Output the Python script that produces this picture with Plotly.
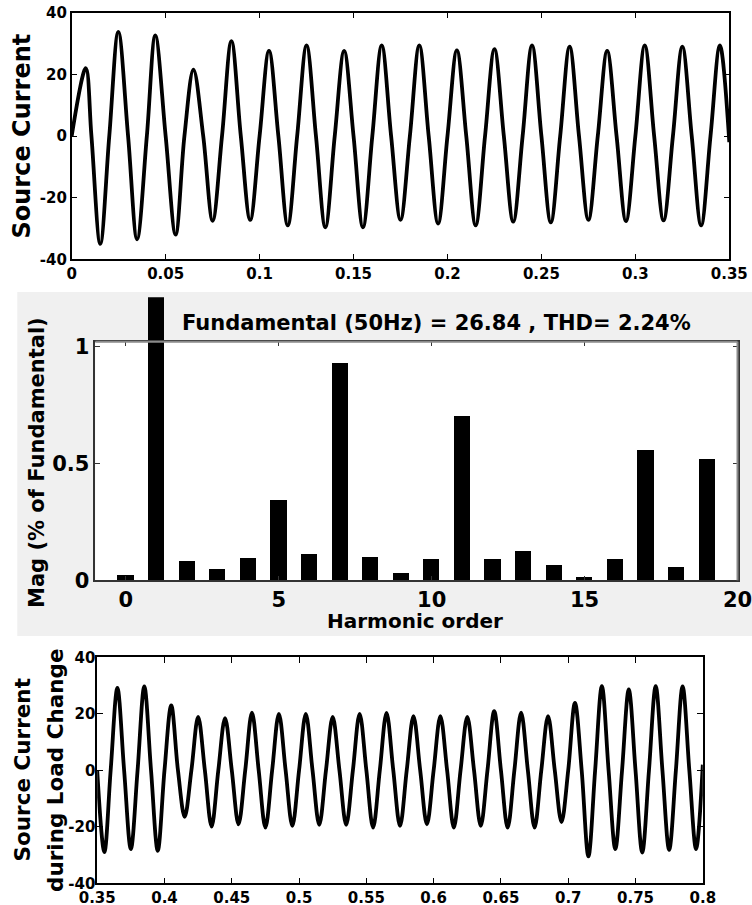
import plotly.graph_objects as go

# ---------------- data ----------------
top_time = [0.0, 0.0075, 0.0105, 0.0152, 0.02, 0.0248, 0.03, 0.0348, 0.04, 0.0445,
            0.05, 0.0553, 0.06, 0.0648, 0.07, 0.075, 0.08, 0.085, 0.09, 0.095,
            0.10, 0.105, 0.11, 0.115, 0.12, 0.125, 0.13, 0.135, 0.14, 0.145,
            0.15, 0.155, 0.16, 0.165, 0.17, 0.175, 0.18, 0.185, 0.19, 0.195,
            0.20, 0.205, 0.21, 0.215, 0.22, 0.225, 0.23, 0.235, 0.24, 0.245,
            0.25, 0.255, 0.26, 0.265, 0.27, 0.275, 0.28, 0.285, 0.29, 0.295,
            0.30, 0.305, 0.31, 0.315, 0.32, 0.325, 0.33, 0.335, 0.34, 0.345, 0.35]
top_current = [0, 22.0, 0, -35.0, 0, 33.8, 0, -33.5, 0, 32.6,
               0, -32.0, 0, 21.5, 0, -27.5, 0, 30.8, 0, -27.2,
               0, 27.6, 0, -29.0, 0, 29.4, 0, -29.6, 0, 27.6,
               0, -29.6, 0, 29.4, 0, -27.2, 0, 29.4, 0, -28.4,
               0, 27.8, 0, -29.0, 0, 28.2, 0, -27.8, 0, 29.4,
               0, -28.0, 0, 29.0, 0, -27.2, 0, 27.6, 0, -27.6,
               0, 29.4, 0, -27.4, 0, 29.0, 0, -29.0, 0, 29.4, -2.0]

load_time = [0.35, 0.3553, 0.36, 0.365, 0.37, 0.375, 0.38, 0.385, 0.39, 0.395,
             0.40, 0.405, 0.41, 0.415, 0.42, 0.425, 0.43, 0.435, 0.44, 0.445,
             0.45, 0.455, 0.46, 0.465, 0.47, 0.475, 0.48, 0.485, 0.49, 0.495,
             0.50, 0.505, 0.51, 0.515, 0.52, 0.525, 0.53, 0.535, 0.54, 0.545,
             0.55, 0.555, 0.56, 0.565, 0.57, 0.575, 0.58, 0.585, 0.59, 0.595,
             0.60, 0.605, 0.61, 0.615, 0.62, 0.625, 0.63, 0.635, 0.64, 0.645,
             0.65, 0.655, 0.66, 0.665, 0.67, 0.675, 0.68, 0.685, 0.69, 0.695,
             0.70, 0.705, 0.71, 0.715, 0.72, 0.725, 0.73, 0.735, 0.74, 0.745,
             0.75, 0.755, 0.76, 0.765, 0.77, 0.775, 0.78, 0.785, 0.79, 0.795, 0.80]
load_current = [0, -29.0, 0, 29.2, 0, -27.9, 0, 29.7, 0, -28.5,
                0, 23.0, 0, -16.5, 0, 18.9, 0, -19.9, 0, 18.5,
                0, -19.1, 0, 20.4, 0, -20.3, 0, 20.0, 0, -19.7,
                0, 20.0, 0, -19.3, 0, 18.9, 0, -19.3, 0, 20.0,
                0, -20.3, 0, 20.3, 0, -19.7, 0, 19.2, 0, -19.1,
                0, 19.2, 0, -20.3, 0, 18.9, 0, -19.7, 0, 20.9,
                0, -20.3, 0, 20.4, 0, -20.3, 0, 19.2, 0, -18.3,
                0, 23.9, 0, -30.5, 0, 29.8, 0, -27.9, 0, 28.6,
                0, -29.1, 0, 29.8, 0, -28.2, 0, 29.7, 0, -27.9, 2.0]

harmonic_order = list(range(20))
harmonic_mag = [0.023, 100.0, 0.081, 0.049, 0.093, 0.343, 0.110, 0.930, 0.100, 0.029,
                0.089, 0.703, 0.089, 0.123, 0.064, 0.011, 0.089, 0.556, 0.054, 0.517]

top_xticks = [0, 0.05, 0.1, 0.15, 0.2, 0.25, 0.3, 0.35]
top_xlabels = ["0", "0.05", "0.1", "0.15", "0.2", "0.25", "0.3", "0.35"]
cur_yticks = [-40, -20, 0, 20, 40]
cur_ylabels = ["-40", "-20", "0", "20", "40"]
load_xticks = [0.35, 0.4, 0.45, 0.5, 0.55, 0.6, 0.65, 0.7, 0.75, 0.8]
load_xlabels = ["0.35", "0.4", "0.45", "0.5", "0.55", "0.6", "0.65", "0.7", "0.75", "0.8"]
fft_xticks = [0, 5, 10, 15, 20]
fft_xlabels = ["0", "5", "10", "15", "20"]
fft_yticks = [0, 0.5, 1]
fft_ylabels = ["0", "0.5", "1"]

title_text = "Fundamental (50Hz) = 26.84 , THD= 2.24%"

# ---------------- layout helpers ----------------
W, H = 752, 905
FONT = "DejaVu Sans"


def fx(p):
    return p / W


def fy(p):
    return 1 - p / H


# panel pixel boxes
TOP = dict(l=71.7, r=729.3, t=12.7, b=259.3)
MID = dict(l=95.3, r=737.5, t=341.7, b=580.3)
BOT = dict(l=97.2, r=702.8, t=657.3, b=883.3)
MID_YMAX = 1.02
BAR_YMAX = 1.21
bar_top_px = MID["b"] - (BAR_YMAX / MID_YMAX) * (MID["b"] - MID["t"])

fig = go.Figure()

wave_line = dict(color="black", width=3.8, shape="spline", smoothing=1.0)
fig.add_trace(go.Scatter(x=top_time, y=top_current, mode="lines", line=wave_line,
                         xaxis="x", yaxis="y", hoverinfo="skip"))
# full bars (the fundamental overflows the axes box)
fig.add_trace(go.Bar(x=harmonic_order, y=harmonic_mag, width=0.53,
                     marker=dict(color="black", line=dict(width=0)),
                     xaxis="x2", yaxis="y2", hoverinfo="skip"))
# same bars on the framed axes (identical inside the box)
fig.add_trace(go.Bar(x=harmonic_order, y=harmonic_mag, width=0.53,
                     marker=dict(color="black", line=dict(width=0)),
                     xaxis="x3", yaxis="y3", hoverinfo="skip"))
fig.add_trace(go.Scatter(x=load_time, y=load_current, mode="lines", line=wave_line,
                         xaxis="x4", yaxis="y4", hoverinfo="skip"))

tick15 = dict(family=FONT, size=15, color="black", weight="bold")
tick21 = dict(family=FONT, size=21, color="black", weight="bold")

common = dict(showgrid=False, zeroline=False, showline=True, linecolor="black",
              linewidth=1.5, ticks="inside", ticklen=6, tickwidth=1, tickcolor="black",
              mirror="ticks", automargin=False, ticklabeloverflow="allow")
mid_axis = {**common, "linecolor": "#333333", "ticklen": 5, "tickcolor": "#333333"}

fig.update_layout(
    width=W, height=H,
    margin=dict(l=0, r=0, t=0, b=0, pad=0, autoexpand=False),
    paper_bgcolor="white",
    plot_bgcolor="rgba(0,0,0,0)",
    showlegend=False,
    bargap=0,
    xaxis=dict(domain=[fx(TOP["l"]), fx(TOP["r"])], range=[0, 0.35], anchor="y",
               tickvals=top_xticks, ticktext=top_xlabels, tickfont=tick15, **common),
    yaxis=dict(domain=[fy(TOP["b"]), fy(TOP["t"])], range=[-40, 40], anchor="x",
               tickvals=cur_yticks, ticktext=cur_ylabels, tickfont=tick15, **common),
    xaxis2=dict(domain=[fx(MID["l"]), fx(MID["r"])], range=[-1, 20], anchor="y2",
                visible=False, showgrid=False, zeroline=False, automargin=False),
    yaxis2=dict(domain=[fy(MID["b"]), fy(bar_top_px)], range=[0, BAR_YMAX], anchor="x2",
                visible=False, showgrid=False, zeroline=False, automargin=False),
    xaxis3=dict(domain=[fx(MID["l"]), fx(MID["r"])], range=[-1, 20], anchor="y3",
                tickvals=fft_xticks, ticktext=fft_xlabels, tickfont=tick21, **mid_axis),
    yaxis3=dict(domain=[fy(MID["b"]), fy(MID["t"])], range=[0, MID_YMAX], anchor="x3",
                tickvals=fft_yticks, ticktext=fft_ylabels, tickfont=tick21, **mid_axis),
    xaxis4=dict(domain=[fx(BOT["l"]), fx(BOT["r"])], range=[0.35, 0.8], anchor="y4",
                tickvals=load_xticks, ticktext=load_xlabels, tickfont=tick15, **common),
    yaxis4=dict(domain=[fy(BOT["b"]), fy(BOT["t"])], range=[-40, 40], anchor="x4",
                tickvals=cur_yticks, ticktext=cur_ylabels, tickfont=tick15,
                ticklabelstandoff=-3, **common),
)

# grey FFT panel background and white axes area
fig.add_shape(type="rect", xref="paper", yref="paper", layer="below",
              x0=fx(17.3), x1=1.0, y0=fy(636), y1=fy(292),
              fillcolor="#f0f0f0", line=dict(width=0))
fig.add_shape(type="rect", xref="paper", yref="paper", layer="below",
              x0=fx(MID["l"]), x1=fx(MID["r"]), y0=fy(MID["b"]), y1=fy(MID["t"]),
              fillcolor="white", line=dict(width=0))
# lighter top / right border of the FFT axes
fig.add_shape(type="line", xref="paper", yref="paper", layer="above",
              x0=fx(MID["l"]), x1=fx(MID["r"]), y0=fy(MID["t"]), y1=fy(MID["t"]),
              line=dict(color="#8a8a8a", width=2))
fig.add_shape(type="line", xref="paper", yref="paper", layer="above",
              x0=fx(MID["r"]), x1=fx(MID["r"]), y0=fy(MID["b"]), y1=fy(MID["t"]),
              line=dict(color="#8a8a8a", width=2))


def label(text, x, y, size, angle=0):
    fig.add_annotation(text=text, x=fx(x), y=fy(y), xref="paper", yref="paper",
                       showarrow=False, textangle=angle, xanchor="center", yanchor="middle",
                       font=dict(family=FONT, size=size, color="black", weight="bold"))


label("Source Current", 21.5, 136, 24, -90)
label("Mag (% of Fundamental)", 37, 463, 21, -90)
label(title_text, 436.5, 322.7, 21)
label("Harmonic order", 415, 621, 20)
label("Source Current", 21.5, 770, 21.5, -90)
label("during Load Change", 55, 770, 21.5, -90)

fig.write_html(
    "out.html",
    config={"displayModeBar": False},
    post_script="document.body.style.margin='0';document.body.style.overflow='hidden';",
)
